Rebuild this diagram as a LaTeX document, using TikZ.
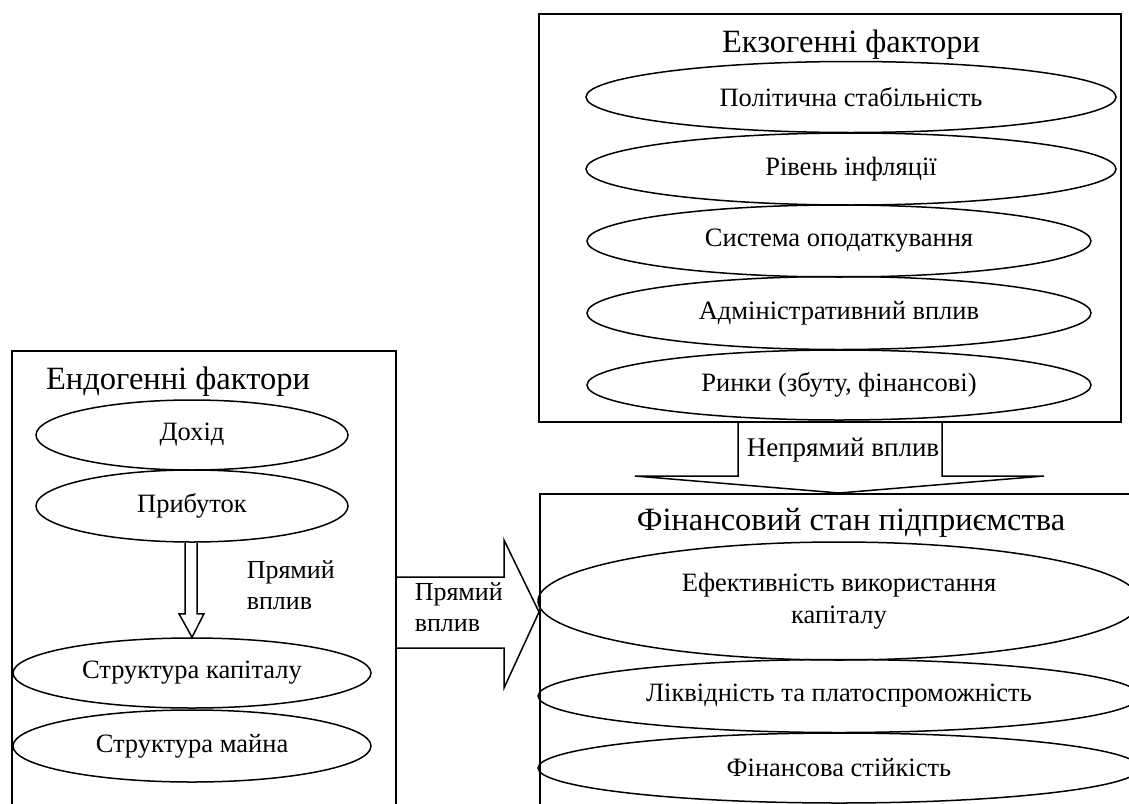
\documentclass[tikz,border=0pt]{standalone}
\usepackage{fontspec}
\setmainfont{Liberation Serif}
\usetikzlibrary{shapes.geometric,calc}
\begin{document}
\begin{tikzpicture}[x=1pt,y=-1pt,line width=1.5pt,
  ell/.style={draw,ellipse,inner sep=0pt,font=\fontsize{26.5}{32}\selectfont,align=center},
  frame/.style={draw,inner sep=0pt,anchor=north west},
  ttl/.style={font=\fontsize{32.5}{36}\selectfont,inner sep=0pt},
  lbl/.style={font=\fontsize{26}{31}\selectfont,align=left,inner sep=0pt},
  blockarrow/.style={draw,line join=miter}]
\useasboundingbox (0,0) rectangle (1129,803);
\clip (0,0) rectangle (1129,803);
% exogenous box
\node[frame,minimum width=582,minimum height=408] (exo) at (538,13) {};
\node[ttl] (exot) at (851,45) {Екзогенні фактори};
\node[ell,minimum width=530,minimum height=71] (e1) at (851,97) {Політична стабільність};
\node[ell,minimum width=530,minimum height=72] (e2) at (851,169) {Рівень інфляції};
\node[ell,minimum width=504,minimum height=72] (e3) at (839,241) {Система оподаткування};
\node[ell,minimum width=504,minimum height=73] (e4) at (839,313) {Адміністративний вплив};
\node[ell,minimum width=504,minimum height=70] (e5) at (839,385) {Ринки (збуту, фінансові)};
% financial state box
\node[frame,minimum width=700,minimum height=400] (fin) at (539,493) {};
\node[ttl] (fint) at (851,523) {Фінансовий стан підприємства};
\node[ell,minimum width=602,minimum height=118] (f1) at (839,601) {Ефективність використання\\капіталу};
\node[ell,minimum width=602,minimum height=73] (f2) at (839,696) {Ліквідність та платоспроможність};
\node[ell,minimum width=602,minimum height=70] (f3) at (839,768) {Фінансова стійкість};
% endogenous box
\node[frame,minimum width=384,minimum height=500] (endo) at (11,350) {};
\node[ttl] (endot) at (178,382) {Ендогенні фактори};
\node[ell,minimum width=312,minimum height=70] (d1) at (192,435) {Дохід};
\node[ell,minimum width=312,minimum height=72] (d2) at (192,506) {Прибуток};
\node[ell,minimum width=358,minimum height=70] (d3) at (192,673) {Структура капіталу};
\node[ell,minimum width=358,minimum height=72] (d4) at (192,746) {Структура майна};
% inner down arrow
\draw[blockarrow] ($(d2.south)+(-7,0)$) -- ($(d2.south)+(-7,71)$) -- ($(d2.south)+(-13,71)$)
  -- (d3.north) -- ($(d2.south)+(12,71)$) -- ($(d2.south)+(5,71)$) -- ($(d2.south)+(5,0)$);
\node[lbl,anchor=west] (pv1) at (246,585) {Прямий\\вплив};
% right arrow endo -> fin
\coordinate (rtip) at (fin.west |- 0,612);
\draw[blockarrow] (endo.east |- 0,577) -- (504,577) -- (504,540) -- (rtip) -- (504,688) -- (504,648) -- (endo.east |- 0,648);
\node[lbl,anchor=west] (pv2) at (414,607) {Прямий\\вплив};
% down arrow exo -> fin
\coordinate (dtip) at (839,493);
\draw[blockarrow] (738,421) -- (738,476) -- (635,476) -- (dtip) -- (1044,476) -- (942,476) -- (942,421);
\node[lbl,font=\fontsize{27}{31}\selectfont] (npv) at (843,450) {Непрямий вплив};
\end{tikzpicture}
\end{document}
